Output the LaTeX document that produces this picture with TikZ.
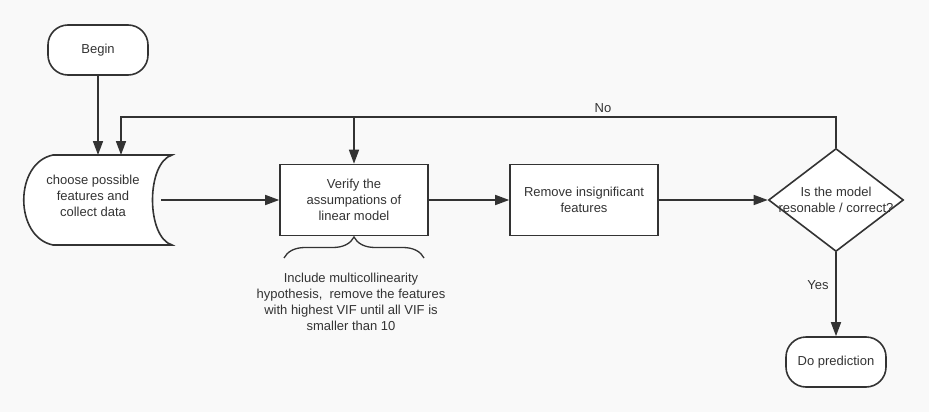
\documentclass[tikz,border=0pt]{standalone}
\usepackage{fontspec}
\setmainfont{Liberation Sans}
\usetikzlibrary{arrows.meta,shapes.geometric,decorations.pathreplacing}
\definecolor{ink}{RGB}{51,51,51}
\definecolor{paper}{RGB}{249,249,249}
\begin{document}
\begin{tikzpicture}[x=1pt,y=-1pt,
  every node/.style={font=\fontsize{13}{16}\selectfont,text=ink,align=center},
  line/.style={draw=ink,line width=1.6pt},
  arr/.style={line,-{Triangle[length=14pt,width=10pt]}},
  terminal/.style={line,fill=white,rounded corners=20pt,minimum width=100pt,minimum height=50pt,inner sep=0pt},
  process/.style={line,fill=white,minimum width=148pt,minimum height=71pt,inner sep=0pt},
  decision/.style={line,fill=white,diamond,minimum width=135pt,minimum height=103pt,inner sep=0pt}]
\useasboundingbox[fill=paper] (0,0) rectangle (929,412);
\node[terminal] (begin) at (98,50) {Begin};
\draw[line,fill=white] (53,155) -- (172,155) .. controls (146,163) and (146,237) .. (172,245)
  -- (53,245) .. controls (14,237) and (14,163) .. (53,155);
\node[minimum width=136pt,inner sep=0pt] (data) at (93,196) {choose possible\\features and\\collect data};
\coordinate (datatop) at (93,155);
\coordinate (dataout) at (161,200);
\node[process] (verify) at (354,200) {Verify the\\assumpations of\\linear model};
\node[process] (remove) at (584,200) {Remove insignificant\\features};
\node[decision] (check) at (836,200) {};
\node at (check) {Is the model\\resonable / correct?};
\node[terminal] (predict) at (836,362) {Do prediction};
\coordinate (loop) at (121,117);
\draw[arr] (begin) -- (begin |- datatop);
\draw[arr] (dataout) -- (verify.west);
\draw[arr] (verify) -- (remove);
\draw[arr] (remove) -- (check.west);
\draw[arr] (check.north) |- (loop) -- (loop |- datatop);
\draw[arr] (verify.north |- loop) -- (verify.north);
\draw[arr] (check.south) -- (predict.north);
\node (no) at (603,108) {No};
\node (yes) at (818,285) {Yes};
\draw[line,line width=1.3pt,decorate,decoration={brace,amplitude=21pt}] (284,258) -- (424,258);
\node (note) at (351,302) {Include multicollinearity\\hypothesis,\ \ remove the features\\with highest VIF until all VIF is\\smaller than 10};
\end{tikzpicture}
\end{document}
